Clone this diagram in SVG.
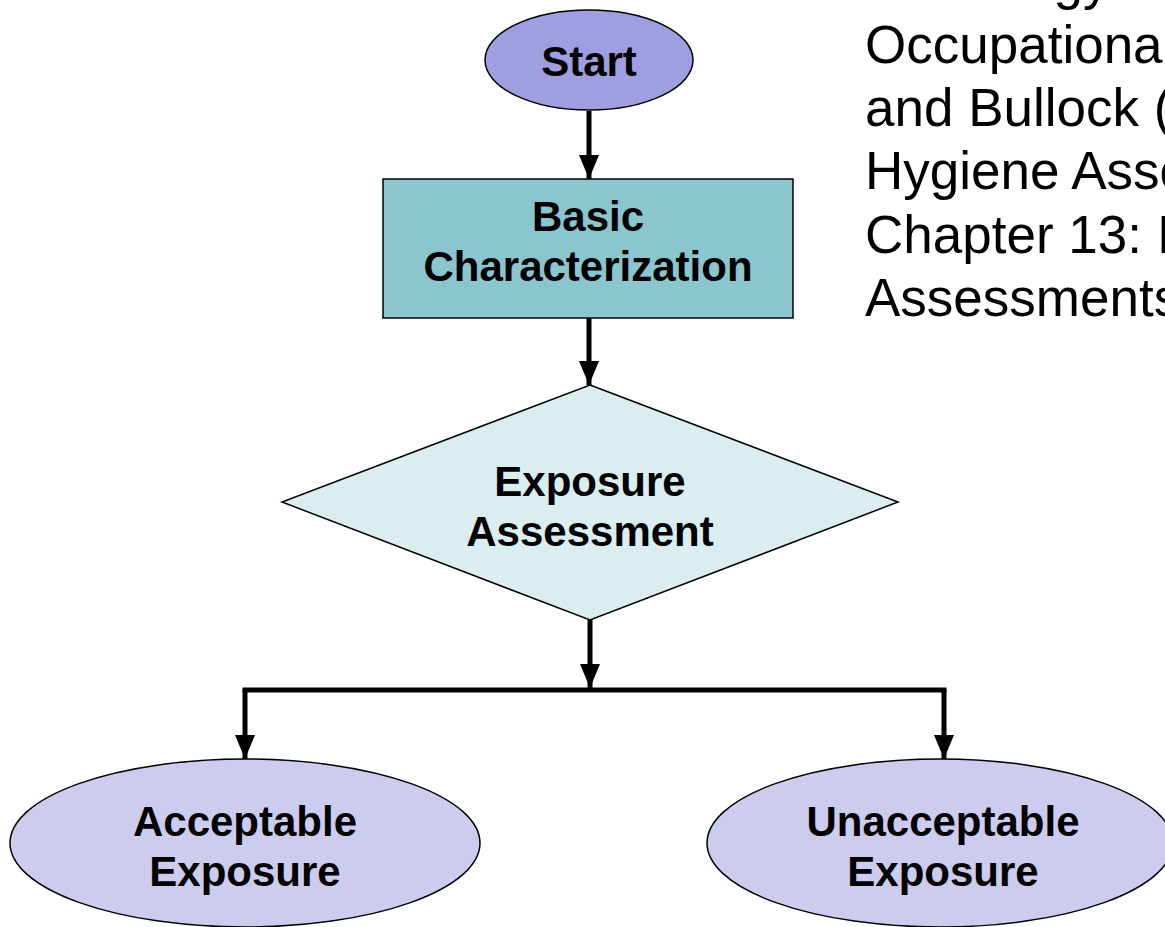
<svg xmlns="http://www.w3.org/2000/svg" width="1165" height="927" viewBox="0 0 1165 927">
  <style>
    .outline { stroke: #000; stroke-width: 1.5; }
    .label { font-family: "Liberation Sans", Arial, sans-serif; font-weight: bold; font-size: 42px; fill: #000; text-anchor: middle; }
    .note { font-family: "Liberation Sans", Arial, sans-serif; font-size: 53px; fill: #000; }
    .wire { stroke: #000; stroke-width: 5; fill: none; }
  </style>
  <defs>
    <marker id="arrow" markerUnits="userSpaceOnUse" markerWidth="24" markerHeight="20" refX="24" refY="10" orient="auto">
      <path d="M0,0 L24,10 L0,20 Z" fill="#000"/>
    </marker>
  </defs>

  <rect width="1165" height="927" fill="#fff"/>

  <!-- reference note, runs off the right edge -->
  <g id="note">
    <text class="note" x="865" y="-1">A Strategy</text>
    <text class="note" x="865" y="63">Occupational</text>
    <text class="note" x="865" y="126">and Bullock (</text>
    <text class="note" x="865" y="189">Hygiene Asso</text>
    <text class="note" x="865" y="253">Chapter 13: I</text>
    <text class="note" x="865" y="316">Assessments</text>
  </g>

  <!-- connectors -->
  <g id="connectors">
    <line class="wire" x1="589" y1="111" x2="589" y2="179" marker-end="url(#arrow)"/>
    <line class="wire" x1="589" y1="318" x2="589" y2="385" marker-end="url(#arrow)"/>
    <line class="wire" x1="590" y1="620" x2="590" y2="688" marker-end="url(#arrow)"/>
    <line class="wire" x1="242.5" y1="690" x2="946.5" y2="690"/>
    <line class="wire" x1="245" y1="690" x2="245" y2="759" marker-end="url(#arrow)"/>
    <line class="wire" x1="944" y1="690" x2="944" y2="759" marker-end="url(#arrow)"/>
  </g>

  <g id="start">
    <ellipse class="outline" cx="589" cy="60" rx="104" ry="50" fill="#9e9ee0"/>
    <text class="label" x="589" y="76">Start</text>
  </g>

  <g id="basic-characterization">
    <rect class="outline" x="383" y="179" width="410" height="139" fill="#8bc5cd"/>
    <text class="label" x="588" y="231">Basic</text>
    <text class="label" x="588" y="281">Characterization</text>
  </g>

  <g id="exposure-assessment">
    <polygon class="outline" points="590,385 898,502 590,620 282,502" fill="#daedef"/>
    <text class="label" x="590" y="496">Exposure</text>
    <text class="label" x="590" y="546">Assessment</text>
  </g>

  <g id="acceptable-exposure">
    <ellipse class="outline" cx="245" cy="843" rx="235" ry="84" fill="#ccccee"/>
    <text class="label" x="245" y="836">Acceptable</text>
    <text class="label" x="245" y="886">Exposure</text>
  </g>

  <g id="unacceptable-exposure">
    <ellipse class="outline" cx="940" cy="843" rx="233" ry="84" fill="#ccccee"/>
    <text class="label" x="943" y="836">Unacceptable</text>
    <text class="label" x="943" y="886">Exposure</text>
  </g>
</svg>
